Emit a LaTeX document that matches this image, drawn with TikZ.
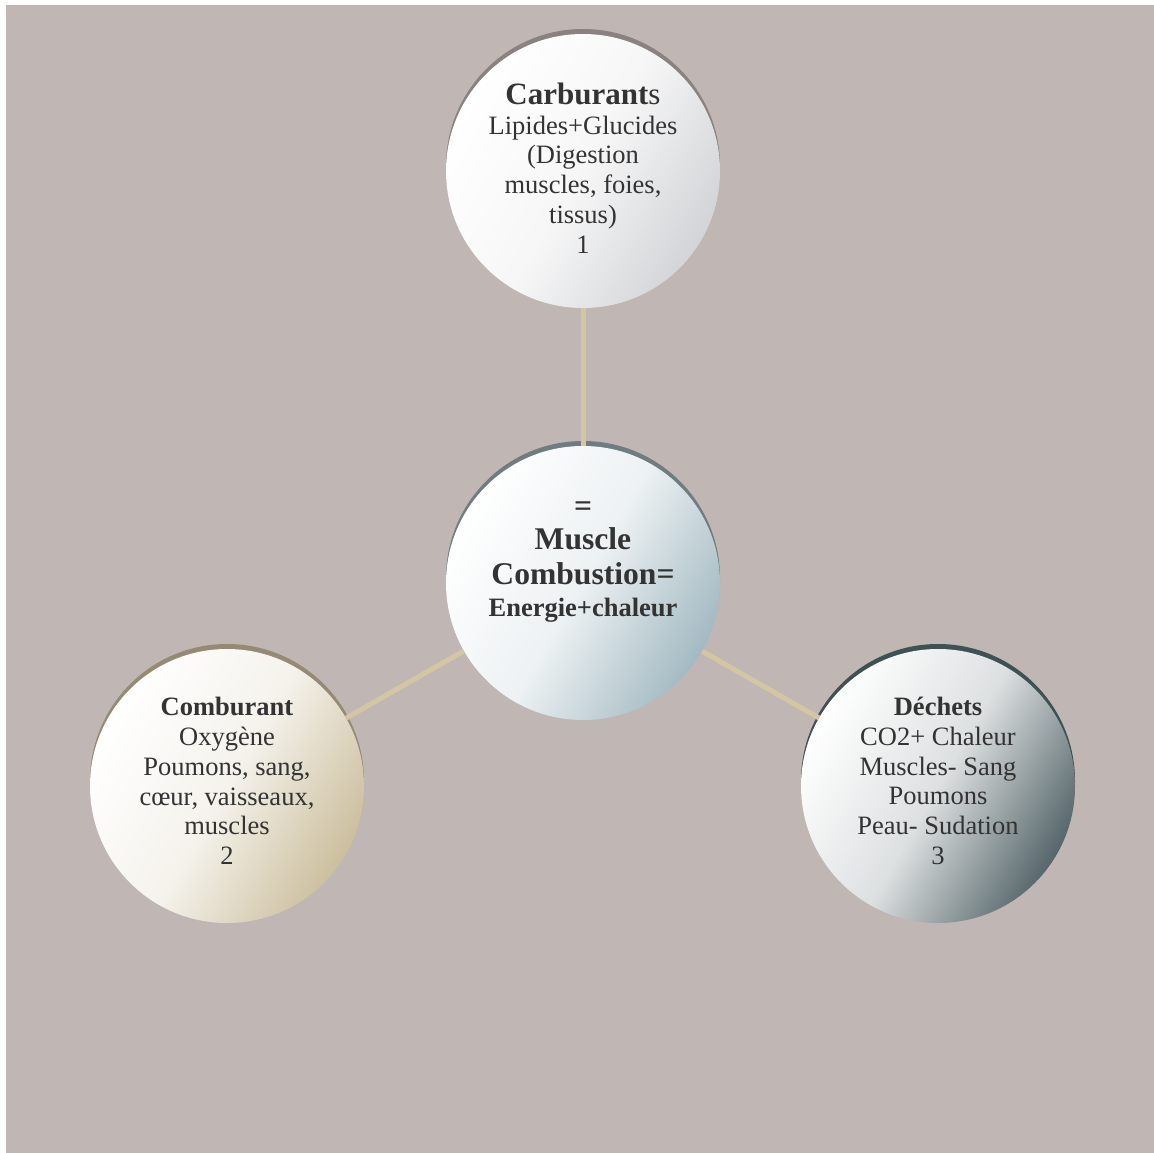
\documentclass[tikz,border=0pt]{standalone}
\usepackage{fontspec}
\setmainfont{Liberation Serif}
\usetikzlibrary{shadows}
\definecolor{backgrey}{HTML}{C0B6B3}
\definecolor{linktan}{HTML}{D3C6A2}
\definecolor{inkgrey}{HTML}{333333}
\definecolor{fuelgrey}{HTML}{D3D4D7}
\definecolor{fuelrim}{HTML}{8A8280}
\definecolor{coreblue}{HTML}{A3BAC2}
\definecolor{corerim}{HTML}{6F7C80}
\definecolor{oxytan}{HTML}{CCBF9E}
\definecolor{oxyrim}{HTML}{978A74}
\definecolor{wasteslate}{HTML}{56666A}
\definecolor{wasterim}{HTML}{3E5153}

\begin{document}
\begin{tikzpicture}[x=1pt, y=-1pt,
  disc/.style={circle, minimum size=274pt, inner sep=0pt, top color=white, bottom color=#1, middle color=white!80!#1, shading angle=60},
  rim/.style={general shadow={fill=#1, shadow yshift=5pt}},
  txt/.style={align=center, text=inkgrey, inner sep=0pt, font=\fontsize{26.5}{29.7}\selectfont},
  link/.style={draw=linktan, line width=5pt}]
  \useasboundingbox (0,0) rectangle (1154,1153);
  \fill[backgrey] (6,5) rectangle (1154,1153);

  % the four discs
  \node[disc=coreblue, rim=corerim] (core) at (583,583) {};
  \node[disc=fuelgrey, rim=fuelrim] (fuel) at (583,171) {};
  \node[disc=oxytan, rim=oxyrim] (oxy) at (227,786) {};
  \node[disc=wasteslate, rim=wasterim] (waste) at (938,786) {};

  \draw[link] (fuel) -- (core);
  \draw[link] (core) -- (oxy);
  \draw[link] (core) -- (waste);

  % texts
  \node[txt] (fueltxt) at (583,168) {{\fontsize{31}{29.7}\selectfont\textbf{Carburant}s}\\Lipides+Glucides\\(Digestion\\muscles, foies,\\tissus)\\1};
  \node[txt, font=\bfseries\fontsize{31.6}{35}\selectfont] (coretxt) at (583,562) {=\\[-2pt]Muscle\\Combustion=\\[-3pt]{\fontsize{26.5}{31}\selectfont Energie+chaleur}};
  \node[txt] (oxytxt) at (227,781) {\textbf{Comburant}\\Oxygène\\Poumons, sang,\\cœur, vaisseaux,\\muscles\\2};
  \node[txt] (wastetxt) at (938,781) {\textbf{Déchets}\\CO2+ Chaleur\\Muscles- Sang\\Poumons\\Peau- Sudation\\3};
\end{tikzpicture}
\end{document}
